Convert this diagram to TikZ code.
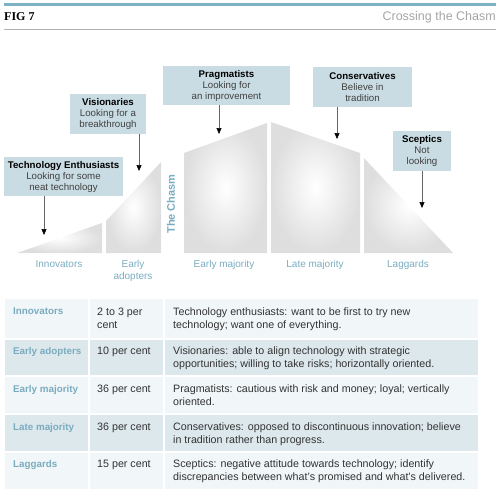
\documentclass[tikz,border=0pt]{standalone}
\usepackage{fontspec}
\setmainfont{Liberation Sans}
\newfontfamily\figfont{Liberation Serif}
\usetikzlibrary{arrows.meta}

\definecolor{ruleteal}{RGB}{125,178,196}
\definecolor{labelteal}{RGB}{122,172,192}
\definecolor{calloutfill}{RGB}{201,220,227}
\definecolor{rowdark}{RGB}{221,232,236}
\definecolor{rowlight}{RGB}{241,246,248}
\definecolor{titlegray}{RGB}{165,165,165}

\tikzset{
  callout/.style={fill=calloutfill, align=center, inner sep=0pt, text=black!75,
    font=\fontsize{9.7}{11}\selectfont},
  pointer/.style={draw=black!60, line width=0.6pt, -{Triangle[length=6pt, width=5pt, black]}},
  curve/.style={shading=radial, inner color=white, outer color=black!13},
  phase/.style={anchor=north, inner sep=0pt, align=center, text=labelteal,
    font=\fontsize{10}{12}\selectfont},
  cellhead/.style={anchor=north west, inner sep=0pt, text=labelteal,
    font=\fontsize{9.8}{13}\bfseries\selectfont},
  cell/.style={anchor=north west, inner sep=0pt, align=left, text=black!80,
    font=\fontsize{10.7}{13}\selectfont}
}

\begin{document}
\begin{tikzpicture}[x=1pt, y=-1pt, line cap=butt, line join=miter]
\useasboundingbox (0,0) rectangle (500,495);

% header
\draw[ruleteal, line width=2.5pt] (4,4.5) -- (496,4.5);
\draw[black!30, line width=0.7pt] (4,29) -- (496,29);
\node[anchor=base west, inner sep=0pt, font=\figfont\fontsize{12}{12}\bfseries\selectfont] (fig) at (4,21) {FIG 7};
\node[anchor=base east, inner sep=0pt, text=titlegray, font=\fontsize{12.5}{13}\selectfont] (title) at (496,21) {Crossing the Chasm};

% the curve
\shade[curve] (17,253) -- (102,223) -- (102,253) -- cycle;
\shade[curve] (106,253) -- (106,221) -- (161,162) -- (161,253) -- cycle;
\shade[curve] (184,253) -- (184,153) -- (267,123) -- (267,253) -- cycle;
\shade[curve] (271,253) -- (271,122) -- (360,153) -- (360,253) -- cycle;
\shade[curve] (364,253) -- (364,158) -- (453,253) -- cycle;

\node[rotate=90, inner sep=0pt, text=labelteal, font=\fontsize{11}{12}\bfseries\selectfont] (chasm) at (171,204) {The Chasm};

\node[phase] (innov) at (59,260) {Innovators};
\node[phase] (early) at (133,260) {Early\\adopters};
\node[phase] (earlymaj) at (224,260) {Early majority};
\node[phase] (latemaj) at (315,260) {Late majority};
\node[phase] (lagg) at (408,260) {Laggards};

% callouts
\node[callout, minimum width=119pt, minimum height=39pt] (te) at (63.5,176.5) {\textcolor{black}{\textbf{Technology Enthusiasts}}\\Looking for some\\neat technology};
\node[callout, minimum width=76pt, minimum height=40pt] (vis) at (108,114) {\textcolor{black}{\textbf{Visionaries}}\\Looking for a\\breakthrough};
\node[callout, minimum width=127pt, minimum height=39pt] (prag) at (226.5,85.5) {\textcolor{black}{\textbf{Pragmatists}}\\Looking for\\an improvement};
\node[callout, minimum width=99pt, minimum height=40pt] (cons) at (362.5,87) {\textcolor{black}{\textbf{Conservatives}}\\Believe in\\tradition};
\node[callout, minimum width=58pt, minimum height=40pt] (scep) at (422,151) {\textcolor{black}{\textbf{Sceptics}}\\Not\\looking};

\coordinate (tehead) at (44,235);
\coordinate (vishead) at (139,171);
\coordinate (praghead) at (219,134);
\coordinate (conshead) at (337,139);
\coordinate (scephead) at (422,208);

\draw[pointer] (te.south -| tehead) -- (tehead);
\draw[pointer] (vis.south -| vishead) -- (vishead);
\draw[pointer] (prag.south -| praghead) -- (praghead);
\draw[pointer] (cons.south -| conshead) -- (conshead);
\draw[pointer] (scep.south -| scephead) -- (scephead);

% table
\fill[rowlight] (5,299) rectangle (478,339);
\fill[rowdark] (5,339) rectangle (478,376);
\fill[rowlight] (5,376) rectangle (478,414);
\fill[rowdark] (5,414) rectangle (478,452);
\fill[rowlight] (5,452) rectangle (478,489);
\draw[white, line width=1.2pt] (5,339) -- (478,339) (5,376) -- (478,376)
  (5,414) -- (478,414) (5,452) -- (478,452);
\draw[white, line width=1.2pt] (89,299) -- (89,489) (164,299) -- (164,489);

\node[cellhead] (r1a) at (13,308) {Innovators};
\node[cell] (r1b) at (97,308) {2 to 3 per\\cent};
\node[cell] (r1c) at (173,308) {Technology enthusiasts: want to be first to try new\\technology; want one of everything.};

\node[cellhead] (r2a) at (13,347) {Early adopters};
\node[cell] (r2b) at (97,347) {10 per cent};
\node[cell] (r2c) at (173,347) {Visionaries: able to align technology with strategic\\opportunities; willing to take risks; horizontally oriented.};

\node[cellhead] (r3a) at (13,385) {Early majority};
\node[cell] (r3b) at (97,385) {36 per cent};
\node[cell] (r3c) at (173,385) {Pragmatists: cautious with risk and money; loyal; vertically\\oriented.};

\node[cellhead] (r4a) at (13,423) {Late majority};
\node[cell] (r4b) at (97,423) {36 per cent};
\node[cell] (r4c) at (173,423) {Conservatives: opposed to discontinuous innovation; believe\\in tradition rather than progress.};

\node[cellhead] (r5a) at (13,460) {Laggards};
\node[cell] (r5b) at (97,460) {15 per cent};
\node[cell] (r5c) at (173,460) {Sceptics: negative attitude towards technology; identify\\discrepancies between what's promised and what's delivered.};

\end{tikzpicture}
\end{document}
